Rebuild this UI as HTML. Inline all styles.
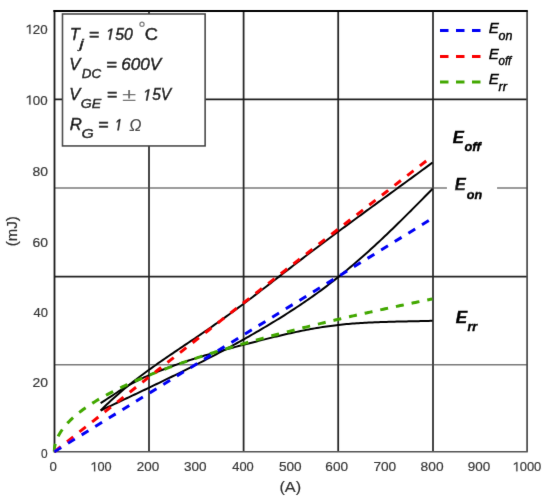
<!DOCTYPE html>
<html><head><meta charset="utf-8"><style>
html,body{margin:0;padding:0;background:#fff;width:550px;height:502px;overflow:hidden}
svg{display:block;will-change:transform}
text{font-family:"Liberation Sans",sans-serif}
.ax{font-size:12.5px;fill:#454545}
.lg{font-size:16px;font-style:italic;fill:#111}
.lgs{font-size:13px}
.le{font-size:14px;font-style:italic;fill:#111}
.lb{font-size:15px;font-style:italic;font-weight:bold;fill:#000}
</style></head><body>
<svg width="550" height="502" viewBox="0 0 550 502">
<defs><filter id="bl" x="0" y="0" width="100%" height="100%" filterUnits="userSpaceOnUse"><feConvolveMatrix order="3" kernelMatrix="0.0052 0.0616 0.0052 0.0616 0.733 0.0616 0.0052 0.0616 0.0052" edgeMode="duplicate" preserveAlpha="false"/></filter></defs>
<rect width="550" height="502" fill="#fff"/>
<g filter="url(#bl)">
<!-- grid -->
<g stroke-width="1.8" fill="none">
<line x1="54.3" y1="188" x2="527" y2="188" stroke="#7a7a7a" stroke-width="1.5"/>
<line x1="54.3" y1="364.8" x2="527" y2="364.8" stroke="#7a7a7a" stroke-width="1.5"/>
<line x1="149" y1="11" x2="149" y2="451.7" stroke="#474747" stroke-width="2"/>
<line x1="243.6" y1="11" x2="243.6" y2="451.7" stroke="#2a2a2a"/>
<line x1="338.2" y1="11" x2="338.2" y2="451.7" stroke="#2a2a2a"/>
<line x1="433" y1="11" x2="433" y2="451.7" stroke="#474747" stroke-width="2"/>
<line x1="54.3" y1="99.4" x2="527" y2="99.4" stroke="#1e1e1e" stroke-width="1.7"/>
<line x1="54.3" y1="276.6" x2="527" y2="276.6" stroke="#222" stroke-width="1.7"/>
</g>
<!-- frame -->
<line x1="527.1" y1="11" x2="527.1" y2="451.7" stroke="#484848" stroke-width="1.7"/>
<line x1="54.3" y1="451.7" x2="527.8" y2="451.7" stroke="#555" stroke-width="1.6"/>
<line x1="54.5" y1="10" x2="54.5" y2="452.5" stroke="#1a1a1a" stroke-width="1.8"/>
<line x1="53.4" y1="11" x2="527.8" y2="11" stroke="#000" stroke-width="2"/>
<!-- E_on label bg -->
<rect x="447" y="184" width="50" height="8" fill="#fff"/>
<!-- curves -->
<g fill="none" stroke-linejoin="round">
<path d="M100.70,410.46 L102.70,408.47 L104.70,406.51 L106.70,404.58 L108.70,402.68 L110.70,400.82 L112.70,398.98 L114.70,397.18 L116.70,395.40 L118.70,393.65 L120.70,391.93 L122.70,390.23 L124.70,388.56 L126.70,386.91 L128.70,385.29 L130.70,383.68 L132.70,382.10 L134.70,380.53 L136.70,378.99 L138.70,377.46 L140.70,375.95 L142.70,374.45 L144.70,372.97 L146.70,371.50 L148.70,370.05 L150.70,368.60 L152.70,367.17 L154.70,365.75 L156.70,364.33 L158.70,362.93 L160.70,361.53 L162.70,360.14 L164.70,358.76 L166.70,357.39 L168.70,356.02 L170.70,354.66 L172.70,353.30 L174.70,351.94 L176.70,350.59 L178.70,349.24 L180.70,347.89 L182.70,346.55 L184.70,345.20 L186.70,343.85 L188.70,342.51 L190.70,341.16 L192.70,339.81 L194.70,338.46 L196.70,337.10 L198.70,335.74 L200.70,334.38 L202.70,333.01 L204.70,331.64 L206.70,330.26 L208.70,328.87 L210.70,327.48 L212.70,326.09 L214.70,324.69 L216.70,323.28 L218.70,321.87 L220.70,320.45 L222.70,319.03 L224.70,317.60 L226.70,316.16 L228.70,314.72 L230.70,313.28 L232.70,311.82 L234.70,310.36 L236.70,308.89 L238.70,307.42 L240.70,305.94 L242.70,304.46 L244.70,302.96 L246.70,301.46 L248.70,299.96 L250.70,298.45 L252.70,296.93 L254.70,295.41 L256.70,293.88 L258.70,292.36 L260.70,290.82 L262.70,289.28 L264.70,287.74 L266.70,286.20 L268.70,284.66 L270.70,283.11 L272.70,281.56 L274.70,280.01 L276.70,278.46 L278.70,276.91 L280.70,275.36 L282.70,273.80 L284.70,272.25 L286.70,270.70 L288.70,269.15 L290.70,267.60 L292.70,266.06 L294.70,264.51 L296.70,262.97 L298.70,261.43 L300.70,259.89 L302.70,258.36 L304.70,256.83 L306.70,255.31 L308.70,253.79 L310.70,252.27 L312.70,250.75 L314.70,249.24 L316.70,247.73 L318.70,246.22 L320.70,244.71 L322.70,243.21 L324.70,241.71 L326.70,240.22 L328.70,238.72 L330.70,237.23 L332.70,235.74 L334.70,234.25 L336.70,232.77 L338.70,231.28 L340.70,229.80 L342.70,228.32 L344.70,226.84 L346.70,225.37 L348.70,223.89 L350.70,222.42 L352.70,220.95 L354.70,219.48 L356.70,218.01 L358.70,216.54 L360.70,215.08 L362.70,213.61 L364.70,212.15 L366.70,210.68 L368.70,209.22 L370.70,207.76 L372.70,206.30 L374.70,204.84 L376.70,203.38 L378.70,201.92 L380.70,200.46 L382.70,199.00 L384.70,197.55 L386.70,196.09 L388.70,194.63 L390.70,193.17 L392.70,191.72 L394.70,190.26 L396.70,188.80 L398.70,187.34 L400.70,185.88 L402.70,184.42 L404.70,182.96 L406.70,181.50 L408.70,180.04 L410.70,178.58 L412.70,177.12 L414.70,175.65 L416.70,174.19 L418.70,172.73 L420.70,171.26 L422.70,169.79 L424.70,168.32 L426.70,166.85 L428.70,165.38 L430.70,163.91 L432.60,162.50" stroke="#000" stroke-width="2"/>
<path d="M100.70,410.52 L102.70,409.58 L104.70,408.63 L106.70,407.69 L108.70,406.74 L110.70,405.80 L112.70,404.86 L114.70,403.91 L116.70,402.97 L118.70,402.03 L120.70,401.09 L122.70,400.14 L124.70,399.20 L126.70,398.26 L128.70,397.31 L130.70,396.37 L132.70,395.42 L134.70,394.48 L136.70,393.53 L138.70,392.58 L140.70,391.64 L142.70,390.69 L144.70,389.74 L146.70,388.79 L148.70,387.83 L150.70,386.88 L152.70,385.92 L154.70,384.96 L156.70,384.01 L158.70,383.04 L160.70,382.08 L162.70,381.12 L164.70,380.15 L166.70,379.18 L168.70,378.21 L170.70,377.24 L172.70,376.26 L174.70,375.28 L176.70,374.30 L178.70,373.32 L180.70,372.33 L182.70,371.34 L184.70,370.35 L186.70,369.36 L188.70,368.36 L190.70,367.36 L192.70,366.35 L194.70,365.35 L196.70,364.34 L198.70,363.32 L200.70,362.30 L202.70,361.28 L204.70,360.25 L206.70,359.22 L208.70,358.19 L210.70,357.15 L212.70,356.11 L214.70,355.06 L216.70,354.01 L218.70,352.96 L220.70,351.90 L222.70,350.83 L224.70,349.76 L226.70,348.69 L228.70,347.61 L230.70,346.53 L232.70,345.44 L234.70,344.34 L236.70,343.25 L238.70,342.14 L240.70,341.03 L242.70,339.92 L244.70,338.79 L246.70,337.67 L248.70,336.53 L250.70,335.40 L252.70,334.25 L254.70,333.10 L256.70,331.94 L258.70,330.78 L260.70,329.61 L262.70,328.44 L264.70,327.25 L266.70,326.07 L268.70,324.87 L270.70,323.67 L272.70,322.46 L274.70,321.24 L276.70,320.02 L278.70,318.79 L280.70,317.55 L282.70,316.30 L284.70,315.04 L286.70,313.77 L288.70,312.50 L290.70,311.21 L292.70,309.92 L294.70,308.61 L296.70,307.29 L298.70,305.97 L300.70,304.63 L302.70,303.28 L304.70,301.92 L306.70,300.54 L308.70,299.16 L310.70,297.76 L312.70,296.35 L314.70,294.92 L316.70,293.49 L318.70,292.04 L320.70,290.57 L322.70,289.09 L324.70,287.60 L326.70,286.09 L328.70,284.56 L330.70,283.03 L332.70,281.47 L334.70,279.91 L336.70,278.33 L338.70,276.73 L340.70,275.12 L342.70,273.50 L344.70,271.86 L346.70,270.21 L348.70,268.55 L350.70,266.87 L352.70,265.18 L354.70,263.47 L356.70,261.75 L358.70,260.02 L360.70,258.27 L362.70,256.51 L364.70,254.74 L366.70,252.96 L368.70,251.16 L370.70,249.35 L372.70,247.53 L374.70,245.69 L376.70,243.84 L378.70,241.98 L380.70,240.11 L382.70,238.23 L384.70,236.33 L386.70,234.43 L388.70,232.52 L390.70,230.59 L392.70,228.66 L394.70,226.72 L396.70,224.77 L398.70,222.81 L400.70,220.85 L402.70,218.87 L404.70,216.89 L406.70,214.91 L408.70,212.91 L410.70,210.92 L412.70,208.91 L414.70,206.91 L416.70,204.89 L418.70,202.88 L420.70,200.86 L422.70,198.83 L424.70,196.81 L426.70,194.78 L428.70,192.75 L430.70,190.71 L432.60,188.78" stroke="#000" stroke-width="2"/>
<path d="M100.60,403.11 L102.60,401.85 L104.60,400.56 L106.60,399.26 L108.60,397.95 L110.60,396.64 L112.60,395.33 L114.60,394.02 L116.60,392.72 L118.60,391.43 L120.60,390.16 L122.60,388.91 L124.60,387.69 L126.60,386.50 L128.60,385.35 L130.60,384.22 L132.60,383.14 L134.60,382.08 L136.60,381.05 L138.60,380.05 L140.60,379.08 L142.60,378.14 L144.60,377.21 L146.60,376.31 L148.60,375.43 L150.60,374.57 L152.60,373.73 L154.60,372.91 L156.60,372.10 L158.60,371.30 L160.60,370.52 L162.60,369.74 L164.60,368.98 L166.60,368.22 L168.60,367.48 L170.60,366.75 L172.60,366.02 L174.60,365.31 L176.60,364.60 L178.60,363.91 L180.60,363.22 L182.60,362.54 L184.60,361.87 L186.60,361.20 L188.60,360.55 L190.60,359.90 L192.60,359.26 L194.60,358.63 L196.60,358.00 L198.60,357.38 L200.60,356.77 L202.60,356.17 L204.60,355.57 L206.60,354.97 L208.60,354.38 L210.60,353.80 L212.60,353.22 L214.60,352.65 L216.60,352.08 L218.60,351.52 L220.60,350.96 L222.60,350.40 L224.60,349.85 L226.60,349.31 L228.60,348.76 L230.60,348.22 L232.60,347.69 L234.60,347.15 L236.60,346.62 L238.60,346.09 L240.60,345.56 L242.60,345.04 L244.60,344.52 L246.60,343.99 L248.60,343.47 L250.60,342.95 L252.60,342.44 L254.60,341.92 L256.60,341.41 L258.60,340.89 L260.60,340.38 L262.60,339.87 L264.60,339.37 L266.60,338.87 L268.60,338.37 L270.60,337.87 L272.60,337.38 L274.60,336.89 L276.60,336.41 L278.60,335.93 L280.60,335.46 L282.60,334.99 L284.60,334.53 L286.60,334.07 L288.60,333.62 L290.60,333.17 L292.60,332.73 L294.60,332.30 L296.60,331.87 L298.60,331.45 L300.60,331.04 L302.60,330.63 L304.60,330.24 L306.60,329.85 L308.60,329.47 L310.60,329.10 L312.60,328.73 L314.60,328.38 L316.60,328.04 L318.60,327.70 L320.60,327.38 L322.60,327.06 L324.60,326.76 L326.60,326.46 L328.60,326.18 L330.60,325.91 L332.60,325.65 L334.60,325.40 L336.60,325.16 L338.60,324.93 L340.60,324.71 L342.60,324.51 L344.60,324.31 L346.60,324.12 L348.60,323.94 L350.60,323.77 L352.60,323.61 L354.60,323.46 L356.60,323.31 L358.60,323.17 L360.60,323.04 L362.60,322.92 L364.60,322.80 L366.60,322.69 L368.60,322.59 L370.60,322.49 L372.60,322.40 L374.60,322.31 L376.60,322.23 L378.60,322.15 L380.60,322.08 L382.60,322.01 L384.60,321.94 L386.60,321.88 L388.60,321.82 L390.60,321.77 L392.60,321.72 L394.60,321.67 L396.60,321.62 L398.60,321.57 L400.60,321.53 L402.60,321.49 L404.60,321.45 L406.60,321.40 L408.60,321.36 L410.60,321.32 L412.60,321.28 L414.60,321.24 L416.60,321.20 L418.60,321.16 L420.60,321.11 L422.60,321.07 L424.60,321.02 L426.60,320.97 L428.60,320.92 L430.60,320.86 L432.60,320.80" stroke="#000" stroke-width="2"/>
<path d="M54.30,451.70 L54.54,447.88 L54.77,446.30 L55.01,445.09 L55.25,444.06 L55.48,443.16 L55.72,442.35 L55.95,441.60 L56.19,440.90 L56.66,439.62 L58.55,435.50 L60.44,432.23 L62.33,429.44 L64.22,426.96 L66.11,424.71 L67.99,422.63 L69.88,420.69 L71.77,418.86 L73.66,417.14 L75.55,415.49 L77.44,413.91 L79.32,412.40 L81.21,410.95 L83.10,409.54 L84.99,408.18 L86.88,406.86 L88.77,405.58 L90.66,404.33 L92.54,403.12 L94.43,401.93 L96.32,400.78 L98.21,399.65 L100.10,398.54 L101.99,397.45 L103.87,396.39 L105.76,395.35 L107.65,394.32 L109.54,393.31 L111.43,392.32 L113.32,391.35 L115.20,390.39 L117.09,389.45 L118.98,388.52 L120.87,387.61 L122.76,386.70 L124.65,385.81 L126.54,384.93 L128.42,384.07 L130.31,383.21 L132.20,382.37 L134.09,381.53 L135.98,380.70 L137.87,379.89 L139.75,379.08 L141.64,378.28 L143.53,377.49 L145.42,376.71 L147.31,375.94 L149.20,375.17 L151.08,374.42 L152.97,373.67 L154.86,372.92 L156.75,372.19 L158.64,371.46 L160.53,370.73 L162.42,370.02 L164.30,369.31 L166.19,368.60 L168.08,367.91 L169.97,367.21 L171.86,366.53 L173.75,365.84 L175.63,365.17 L177.52,364.50 L179.41,363.83 L181.30,363.17 L183.19,362.52 L185.08,361.86 L186.96,361.22 L188.85,360.58 L190.74,359.94 L192.63,359.31 L194.52,358.68 L196.41,358.05 L198.30,357.43 L200.18,356.82 L202.07,356.21 L203.96,355.60 L205.85,354.99 L207.74,354.39 L209.63,353.80 L211.51,353.20 L213.40,352.61 L215.29,352.03 L217.18,351.44 L219.07,350.86 L220.96,350.29 L222.84,349.71 L224.73,349.14 L226.62,348.58 L228.51,348.01 L230.40,347.45 L232.29,346.90 L234.18,346.34 L236.06,345.79 L237.95,345.24 L239.84,344.70 L241.73,344.15 L243.62,343.61 L245.51,343.07 L247.39,342.54 L249.28,342.01 L251.17,341.48 L253.06,340.95 L254.95,340.42 L256.84,339.90 L258.72,339.38 L260.61,338.86 L262.50,338.35 L264.39,337.84 L266.28,337.33 L268.17,336.82 L270.06,336.31 L271.94,335.81 L273.83,335.31 L275.72,334.81 L277.61,334.31 L279.50,333.81 L281.39,333.32 L283.27,332.83 L285.16,332.34 L287.05,331.85 L288.94,331.37 L290.83,330.88 L292.72,330.40 L294.61,329.92 L296.49,329.45 L298.38,328.97 L300.27,328.50 L302.16,328.02 L304.05,327.55 L305.94,327.09 L307.82,326.62 L309.71,326.15 L311.60,325.69 L313.49,325.23 L315.38,324.77 L317.27,324.31 L319.15,323.85 L321.04,323.40 L322.93,322.95 L324.82,322.49 L326.71,322.04 L328.60,321.60 L330.49,321.15 L332.37,320.70 L334.26,320.26 L336.15,319.82 L338.04,319.38 L339.93,318.94 L341.82,318.50 L343.70,318.06 L345.59,317.63 L347.48,317.19 L349.37,316.76 L351.26,316.33 L353.15,315.90 L355.03,315.47 L356.92,315.04 L358.81,314.62 L360.70,314.19 L362.59,313.77 L364.48,313.35 L366.37,312.93 L368.25,312.51 L370.14,312.09 L372.03,311.67 L373.92,311.26 L375.81,310.84 L377.70,310.43 L379.58,310.02 L381.47,309.61 L383.36,309.20 L385.25,308.79 L387.14,308.38 L389.03,307.98 L390.91,307.57 L392.80,307.17 L394.69,306.77 L396.58,306.36 L398.47,305.96 L400.36,305.56 L402.25,305.17 L404.13,304.77 L406.02,304.37 L407.91,303.98 L409.80,303.58 L411.69,303.19 L413.58,302.80 L415.46,302.41 L417.35,302.02 L419.24,301.63 L421.13,301.24 L423.02,300.86 L424.91,300.47 L426.79,300.09 L428.68,299.70 L430.57,299.32 L432.46,298.94" stroke="#42a806" stroke-width="3" stroke-dasharray="8 8"/>
<path d="M54.40,451.70 L60.81,446.63 L67.22,441.57 L73.63,436.51 L80.04,431.44 L86.45,426.38 L92.86,421.31 L99.27,416.25 L105.68,411.19 L112.09,406.13 L118.50,401.07 L124.91,396.02 L131.32,390.96 L137.73,385.91 L144.14,380.86 L150.55,375.81 L156.96,370.76 L163.37,365.71 L169.78,360.67 L176.19,355.63 L182.60,350.59 L189.01,345.55 L195.42,340.52 L201.83,335.49 L208.24,330.46 L214.65,325.43 L221.06,320.41 L227.47,315.39 L233.88,310.37 L240.29,305.36 L246.71,300.34 L253.12,295.34 L259.53,290.33 L265.94,285.33 L272.35,280.33 L278.76,275.33 L285.17,270.33 L291.58,265.34 L297.99,260.35 L304.40,255.36 L310.81,250.38 L317.22,245.40 L323.63,240.42 L330.04,235.44 L336.45,230.46 L342.86,225.49 L349.27,220.52 L355.68,215.55 L362.09,210.58 L368.50,205.61 L374.91,200.65 L381.32,195.68 L387.73,190.72 L394.14,185.76 L400.55,180.80 L406.96,175.84 L413.37,170.88 L419.78,165.92 L426.19,160.96 L432.60,156.00" stroke="#fa0000" stroke-width="3" stroke-dasharray="8 8"/>
<path d="M54.40,451.70 L432.60,218.20" stroke="#0000f5" stroke-width="3" stroke-dasharray="8 8"/>
</g>
<!-- legend box -->
<rect x="62.5" y="14" width="142.6" height="131.9" fill="#fff" stroke="#444" stroke-width="1.6"/>
<text x="69.66" y="39.70" font-family="Liberation Sans" font-size="16" font-style="italic" fill="#000" stroke="#000" stroke-width="0.4" textLength="10.17" lengthAdjust="spacingAndGlyphs">T</text>
<text x="79.45" y="47.50" font-family="Liberation Sans" font-size="13" font-style="italic" fill="#000" stroke="#000" stroke-width="0.4" textLength="4.19" lengthAdjust="spacingAndGlyphs">j</text>
<text x="88.89" y="39.70" font-family="Liberation Sans" font-size="16" font-style="italic" fill="#000" stroke="#000" stroke-width="0.4" textLength="10.39" lengthAdjust="spacingAndGlyphs">=</text>
<text x="106.50" y="39.70" font-family="Liberation Sans" font-size="16" font-style="italic" fill="#000" stroke="#000" stroke-width="0.4" textLength="26.31" lengthAdjust="spacingAndGlyphs">&#8199;50</text><path d="M317,0 L555,1223 L194,1000 L229,1180 L606,1409 L772,1409 L498,0 Z" transform="translate(106.50,39.70) scale(0.00770,-0.00781)" fill="#000" stroke="#000" stroke-width="52.0"/>
<text x="144.79" y="40.00" font-family="Liberation Sans" font-size="16.5" fill="#000" stroke="#000" stroke-width="0.4" textLength="13.23" lengthAdjust="spacingAndGlyphs">C</text>
<text x="69.36" y="70.40" font-family="Liberation Sans" font-size="16" font-style="italic" fill="#000" stroke="#000" stroke-width="0.4" textLength="11.06" lengthAdjust="spacingAndGlyphs">V</text>
<text x="81.80" y="78.00" font-family="Liberation Sans" font-size="13" font-style="italic" fill="#000" stroke="#000" stroke-width="0.4" textLength="19.37" lengthAdjust="spacingAndGlyphs">DC</text>
<text x="106.04" y="70.40" font-family="Liberation Sans" font-size="16" font-style="italic" fill="#000" stroke="#000" stroke-width="0.4" textLength="10.86" lengthAdjust="spacingAndGlyphs">=</text>
<text x="121.23" y="70.40" font-family="Liberation Sans" font-size="16" font-style="italic" fill="#000" stroke="#000" stroke-width="0.4" textLength="40.03" lengthAdjust="spacingAndGlyphs">600V</text>
<text x="69.36" y="100.40" font-family="Liberation Sans" font-size="16" font-style="italic" fill="#000" stroke="#000" stroke-width="0.4" textLength="11.06" lengthAdjust="spacingAndGlyphs">V</text>
<text x="80.71" y="108.30" font-family="Liberation Sans" font-size="13" font-style="italic" fill="#000" stroke="#000" stroke-width="0.4" textLength="20.47" lengthAdjust="spacingAndGlyphs">GE</text>
<text x="106.89" y="100.40" font-family="Liberation Sans" font-size="16" font-style="italic" fill="#000" stroke="#000" stroke-width="0.4" textLength="10.39" lengthAdjust="spacingAndGlyphs">=</text>
<text x="121.93" y="100.60" font-family="Liberation Serif" font-size="19" fill="#6a6a6a" textLength="14.26" lengthAdjust="spacingAndGlyphs">±</text>
<text x="143.60" y="100.40" font-family="Liberation Sans" font-size="16" font-style="italic" fill="#000" stroke="#000" stroke-width="0.4" textLength="27.61" lengthAdjust="spacingAndGlyphs">&#8199;5V</text><path d="M317,0 L555,1223 L194,1000 L229,1180 L606,1409 L772,1409 L498,0 Z" transform="translate(143.60,100.40) scale(0.00758,-0.00781)" fill="#000" stroke="#000" stroke-width="52.8"/>
<text x="69.80" y="130.30" font-family="Liberation Sans" font-size="16" font-style="italic" fill="#000" stroke="#000" stroke-width="0.4" textLength="12.09" lengthAdjust="spacingAndGlyphs">R</text>
<text x="81.49" y="138.00" font-family="Liberation Sans" font-size="13" font-style="italic" fill="#000" stroke="#000" stroke-width="0.4" textLength="12.26" lengthAdjust="spacingAndGlyphs">G</text>
<text x="98.08" y="130.30" font-family="Liberation Sans" font-size="16" font-style="italic" fill="#000" stroke="#000" stroke-width="0.4" textLength="10.51" lengthAdjust="spacingAndGlyphs">=</text>
<text x="115.50" y="130.30" font-family="Liberation Sans" font-size="16" font-style="italic" fill="#000" stroke="#000" stroke-width="0.4" textLength="7.24" lengthAdjust="spacingAndGlyphs">&#8199;</text><path d="M317,0 L555,1223 L194,1000 L229,1180 L606,1409 L772,1409 L498,0 Z" transform="translate(115.50,130.30) scale(0.00635,-0.00781)" fill="#000" stroke="#000" stroke-width="63.0"/>
<text x="129.30" y="130.60" font-family="Liberation Serif" font-size="16" font-style="italic" fill="#333" stroke="#333" stroke-width="0.1" textLength="12.21" lengthAdjust="spacingAndGlyphs">Ω</text>
<text x="488.80" y="32.90" font-family="Liberation Sans" font-size="15" font-style="italic" fill="#000" stroke="#000" stroke-width="0.4" textLength="10.12" lengthAdjust="spacingAndGlyphs">E</text>
<text x="498.50" y="39.80" font-family="Liberation Sans" font-size="12" font-style="italic" fill="#000" stroke="#000" stroke-width="0.4" textLength="13.87" lengthAdjust="spacingAndGlyphs">on</text>
<text x="488.80" y="59.40" font-family="Liberation Sans" font-size="15" font-style="italic" fill="#000" stroke="#000" stroke-width="0.4" textLength="10.12" lengthAdjust="spacingAndGlyphs">E</text>
<text x="498.50" y="65.40" font-family="Liberation Sans" font-size="12" font-style="italic" fill="#000" stroke="#000" stroke-width="0.4" textLength="12.81" lengthAdjust="spacingAndGlyphs">off</text>
<text x="488.80" y="84.30" font-family="Liberation Sans" font-size="15" font-style="italic" fill="#000" stroke="#000" stroke-width="0.4" textLength="10.12" lengthAdjust="spacingAndGlyphs">E</text>
<text x="498.50" y="90.80" font-family="Liberation Sans" font-size="12" font-style="italic" fill="#000" stroke="#000" stroke-width="0.4" textLength="8.40" lengthAdjust="spacingAndGlyphs">rr</text>
<text x="452.70" y="142.70" font-family="Liberation Sans" font-size="16" font-style="italic" font-weight="bold" fill="#000" stroke="#000" stroke-width="0.4" textLength="11.06" lengthAdjust="spacingAndGlyphs">E</text>
<text x="464.50" y="150.50" font-family="Liberation Sans" font-size="13" font-style="italic" font-weight="bold" fill="#000" stroke="#000" stroke-width="0.4" textLength="16.19" lengthAdjust="spacingAndGlyphs">off</text>
<text x="454.80" y="190.20" font-family="Liberation Sans" font-size="16" font-style="italic" font-weight="bold" fill="#000" stroke="#000" stroke-width="0.4" textLength="10.96" lengthAdjust="spacingAndGlyphs">E</text>
<text x="466.80" y="198.80" font-family="Liberation Sans" font-size="13" font-style="italic" font-weight="bold" fill="#000" stroke="#000" stroke-width="0.4" textLength="15.39" lengthAdjust="spacingAndGlyphs">on</text>
<text x="455.80" y="322.80" font-family="Liberation Sans" font-size="16" font-style="italic" font-weight="bold" fill="#000" stroke="#000" stroke-width="0.4" textLength="11.35" lengthAdjust="spacingAndGlyphs">E</text>
<text x="467.50" y="330.80" font-family="Liberation Sans" font-size="13" font-style="italic" font-weight="bold" fill="#000" stroke="#000" stroke-width="0.4" textLength="9.66" lengthAdjust="spacingAndGlyphs">rr</text>
<text x="25.38" y="33.80" font-family="Liberation Sans" font-size="13" fill="#3a3a3a" stroke="#3a3a3a" stroke-width="0.22" textLength="22.25" lengthAdjust="spacingAndGlyphs">&#8199;20</text><path d="M600,0 L600,1237 L220,1000 L220,1170 L615,1409 L781,1409 L781,0 Z" transform="translate(25.38,33.80) scale(0.00651,-0.00635)" fill="#3a3a3a" stroke="#3a3a3a" stroke-width="33.8"/>
<text x="25.38" y="104.50" font-family="Liberation Sans" font-size="13" fill="#3a3a3a" stroke="#3a3a3a" stroke-width="0.22" textLength="22.25" lengthAdjust="spacingAndGlyphs">&#8199;00</text><path d="M600,0 L600,1237 L220,1000 L220,1170 L615,1409 L781,1409 L781,0 Z" transform="translate(25.38,104.50) scale(0.00651,-0.00635)" fill="#3a3a3a" stroke="#3a3a3a" stroke-width="33.8"/>
<text x="32.43" y="175.90" font-family="Liberation Sans" font-size="13" fill="#3a3a3a" stroke="#3a3a3a" stroke-width="0.22" textLength="15.47" lengthAdjust="spacingAndGlyphs">80</text>
<text x="32.43" y="246.50" font-family="Liberation Sans" font-size="13" fill="#3a3a3a" stroke="#3a3a3a" stroke-width="0.22" textLength="15.47" lengthAdjust="spacingAndGlyphs">60</text>
<text x="33.50" y="316.80" font-family="Liberation Sans" font-size="13" fill="#3a3a3a" stroke="#3a3a3a" stroke-width="0.22" textLength="14.37" lengthAdjust="spacingAndGlyphs">40</text>
<text x="32.43" y="387.40" font-family="Liberation Sans" font-size="13" fill="#3a3a3a" stroke="#3a3a3a" stroke-width="0.22" textLength="15.47" lengthAdjust="spacingAndGlyphs">20</text>
<text x="41.00" y="458.30" font-family="Liberation Sans" font-size="13" fill="#3a3a3a" stroke="#3a3a3a" stroke-width="0.22" textLength="6.61" lengthAdjust="spacingAndGlyphs">0</text>
<text x="49.50" y="471.30" font-family="Liberation Sans" font-size="13" fill="#3a3a3a" stroke="#3a3a3a" stroke-width="0.22" textLength="7.34" lengthAdjust="spacingAndGlyphs">0</text>
<text x="90.32" y="471.30" font-family="Liberation Sans" font-size="13" fill="#3a3a3a" stroke="#3a3a3a" stroke-width="0.22" textLength="21.27" lengthAdjust="spacingAndGlyphs">&#8199;00</text><path d="M600,0 L600,1237 L220,1000 L220,1170 L615,1409 L781,1409 L781,0 Z" transform="translate(90.32,471.30) scale(0.00622,-0.00635)" fill="#3a3a3a" stroke="#3a3a3a" stroke-width="35.4"/>
<text x="136.77" y="471.30" font-family="Liberation Sans" font-size="13" fill="#3a3a3a" stroke="#3a3a3a" stroke-width="0.22" textLength="22.46" lengthAdjust="spacingAndGlyphs">200</text>
<text x="183.96" y="471.30" font-family="Liberation Sans" font-size="13" fill="#3a3a3a" stroke="#3a3a3a" stroke-width="0.22" textLength="22.57" lengthAdjust="spacingAndGlyphs">300</text>
<text x="232.30" y="471.30" font-family="Liberation Sans" font-size="13" fill="#3a3a3a" stroke="#3a3a3a" stroke-width="0.22" textLength="21.50" lengthAdjust="spacingAndGlyphs">400</text>
<text x="278.95" y="471.30" font-family="Liberation Sans" font-size="13" fill="#3a3a3a" stroke="#3a3a3a" stroke-width="0.22" textLength="22.68" lengthAdjust="spacingAndGlyphs">500</text>
<text x="325.35" y="471.30" font-family="Liberation Sans" font-size="13" fill="#3a3a3a" stroke="#3a3a3a" stroke-width="0.22" textLength="22.68" lengthAdjust="spacingAndGlyphs">600</text>
<text x="373.45" y="471.30" font-family="Liberation Sans" font-size="13" fill="#3a3a3a" stroke="#3a3a3a" stroke-width="0.22" textLength="22.79" lengthAdjust="spacingAndGlyphs">700</text>
<text x="420.64" y="471.30" font-family="Liberation Sans" font-size="13" fill="#3a3a3a" stroke="#3a3a3a" stroke-width="0.22" textLength="22.90" lengthAdjust="spacingAndGlyphs">800</text>
<text x="467.76" y="471.30" font-family="Liberation Sans" font-size="13" fill="#3a3a3a" stroke="#3a3a3a" stroke-width="0.22" textLength="22.46" lengthAdjust="spacingAndGlyphs">900</text>
<text x="512.50" y="471.30" font-family="Liberation Sans" font-size="13" fill="#3a3a3a" stroke="#3a3a3a" stroke-width="0.22" textLength="28.82" lengthAdjust="spacingAndGlyphs">&#8199;000</text><path d="M600,0 L600,1237 L220,1000 L220,1170 L615,1409 L781,1409 L781,0 Z" transform="translate(512.50,471.30) scale(0.00632,-0.00635)" fill="#3a3a3a" stroke="#3a3a3a" stroke-width="34.8"/>
<text x="279.42" y="491.80" font-family="Liberation Sans" font-size="15" fill="#333" stroke="#333" stroke-width="0.2" textLength="21.67" lengthAdjust="spacingAndGlyphs">(A)</text>
<circle cx="142" cy="24.3" r="2.1" fill="none" stroke="#777" stroke-width="1.2"/>
<!-- right legend -->
<g fill="none" stroke-width="3" stroke-dasharray="8.5 7.5">
<line x1="440" y1="30.5" x2="481" y2="30.5" stroke="#0000f5"/>
<line x1="440" y1="56.5" x2="481" y2="56.5" stroke="#fa0000"/>
<line x1="440" y1="82" x2="481" y2="82" stroke="#42a806"/>
</g>
<text transform="translate(17.1,231.3) rotate(-90)" text-anchor="middle" font-size="15" fill="#333" stroke="#333" stroke-width="0.2">(mJ)</text>
</g>
</svg>
</body></html>
